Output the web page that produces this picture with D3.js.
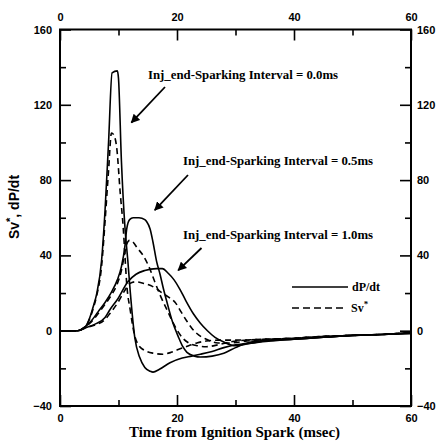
<!DOCTYPE html>
<html>
<head>
<meta charset="utf-8">
<script src="https://cdn.jsdelivr.net/npm/d3@7"></script>
<style>
  html, body { margin: 0; padding: 0; background: #fff; }
  svg { display: block; }
  .tick text { font-family: "Liberation Sans", Arial, sans-serif; font-weight: bold; font-size: 11px; fill: #000; }
  .domain { display: none; }
</style>
</head>
<body>
<svg id="chart" width="440" height="441"></svg>
<script>
// Axis ticks
const xMajorTicks = [0, 20, 40, 60];
const xMinorTicks = [10, 30, 50];
const yMajorTicks = [-40, 0, 40, 80, 120, 160];
const yMinorTicks = [-20, 20, 60, 100, 140];

// dP/dt (solid) and Sv* (dashed), [time in msec, value], one pair of series per interval
const dPdt_00 = [[0,0],[3,0],[4.3,2],[5.1,7],[5.7,13],[6.3,20],[7.1,37],[7.7,64],[8.3,100],[8.9,137],[9.8,138],[10,134],[10.5,90],[11.1,55],[11.6,37],[12,21],[12.8,-4],[13.6,-14],[14.5,-19.5],[15.4,-21.5],[15.9,-22],[17,-20.5],[18.8,-17],[20.9,-14.5],[22.5,-13.5],[24,-12.5],[26,-11],[28,-9],[30,-7.5],[33,-6.5],[36,-5.5],[40,-4.5],[45,-3.5],[50,-2.5],[55,-2],[60,-1.5]];
const sv_00 = [[0,0],[3,0],[4.3,2],[5.1,6.5],[5.8,13],[6.3,19],[7.1,34],[7.7,58],[8.3,85],[8.8,105],[9.2,104],[9.7,97],[10.3,73],[10.8,55],[11.1,40],[11.4,25],[12,11],[12.8,-3],[13.5,-8],[14.2,-10],[14.8,-11],[16,-12],[17.6,-12.5],[19,-11.5],[20.2,-10],[22,-8],[23.4,-6.5],[25,-5.5],[27.4,-5],[30,-5],[35,-4.5],[40,-4],[45,-3],[50,-2.5],[55,-2],[60,-1]];

const dPdt_05 = [[0,0],[3,0],[4.3,2],[5.3,5],[6.5,10],[7.7,15],[8.8,20.5],[9.8,27],[10.5,34],[11.1,45],[11.4,54],[11.9,59],[12.5,60],[13.5,60],[14.5,59],[14.8,58],[15.4,54],[15.9,47],[16.5,37],[17.1,30],[17.7,22],[18.3,15],[19.2,5],[20.2,-3],[21,-8.5],[21.7,-11.5],[23,-13.5],[24,-14],[26,-13.5],[28,-12],[30,-9],[32,-6.5],[36,-5],[40,-4.5],[45,-3.5],[50,-2.5],[55,-2],[60,-1]];
const sv_05 = [[0,0],[3,0],[4.3,2],[5.3,4.5],[6.5,9],[7.7,14],[8.8,19],[9.8,25],[10.5,32],[11,40],[11.4,46],[11.9,48],[12.5,47],[13.2,44],[14.2,40],[15.2,34],[16.2,26],[17.1,19],[18.3,11],[19.7,2],[21,-4],[22,-6.5],[23.5,-8],[25,-8.5],[27,-7.5],[29,-6],[32,-5],[36,-4.5],[40,-4],[45,-3],[50,-2.5],[55,-2],[60,-1]];

const dPdt_10 = [[0,0],[3,0],[4.3,1.5],[6,3.5],[7.7,7],[8.5,11],[9.9,17],[11.6,26],[13,30],[14.5,32],[16.5,33],[17.5,33],[18.5,30.5],[19.5,27],[20.5,22],[21.5,16],[22.8,9],[24,4],[25.2,0],[26.5,-3.5],[28,-6],[30,-8],[32,-7],[35,-5.5],[40,-4.5],[45,-3.5],[50,-2.5],[55,-2],[60,-1.5]];
const sv_10 = [[0,0],[3,0],[4.3,1.5],[6,3],[7.7,6],[8.5,9],[9.9,15],[11,21],[11.9,25],[13,26],[14.5,25],[15.5,24],[16.6,22],[17.5,20],[18.5,18],[19.7,15],[20.7,10],[21.7,5],[22.5,1.5],[23.4,-1.5],[25,-4.5],[27,-6.5],[29,-6.5],[32,-5.5],[36,-4.5],[40,-4],[45,-3],[50,-2.5],[55,-2],[60,-1]];

const intervalLabels = ["Inj_end-Sparking Interval = 0.0ms", "Inj_end-Sparking Interval = 0.5ms", "Inj_end-Sparking Interval = 1.0ms"];

const svg = d3.select("#chart");
const plotLeft = 60, plotRight = 411, plotTop = 29.5, plotBottom = 406;

const x = d3.scaleLinear().domain([0, 60]).range([plotLeft, plotRight]);
const y = d3.scaleLinear().domain([-40, 160]).range([plotBottom, plotTop]);

const serif = "'Liberation Serif', 'Times New Roman', serif";
const sans = "'Liberation Sans', Arial, sans-serif";

// Axes: ticks point into the plot on all four sides
function styleAxis(g) {
  g.selectAll(".tick line").attr("stroke", "#000").attr("stroke-width", 1.6);
}
const majorLen = 11, minorLen = 6;

svg.append("g").attr("transform", `translate(0,${plotBottom})`)
  .call(d3.axisBottom(x).tickValues(xMajorTicks).tickSizeInner(-majorLen).tickSizeOuter(0).tickPadding(8).tickFormat(d3.format("d")))
  .call(styleAxis);
svg.append("g").attr("transform", `translate(0,${plotBottom})`)
  .call(d3.axisBottom(x).tickValues(xMinorTicks).tickSizeInner(-minorLen).tickSizeOuter(0).tickFormat(""))
  .call(styleAxis);
svg.append("g").attr("transform", `translate(0,${plotTop})`)
  .call(d3.axisTop(x).tickValues(xMajorTicks).tickSizeInner(-majorLen).tickSizeOuter(0).tickPadding(9).tickFormat(d3.format("d")))
  .call(styleAxis);
svg.append("g").attr("transform", `translate(0,${plotTop})`)
  .call(d3.axisTop(x).tickValues(xMinorTicks).tickSizeInner(-minorLen).tickSizeOuter(0).tickFormat(""))
  .call(styleAxis);
svg.append("g").attr("transform", `translate(${plotLeft},0)`)
  .call(d3.axisLeft(y).tickValues(yMajorTicks).tickSizeInner(-majorLen).tickSizeOuter(0).tickPadding(8).tickFormat(d3.format("d")))
  .call(styleAxis);
svg.append("g").attr("transform", `translate(${plotLeft},0)`)
  .call(d3.axisLeft(y).tickValues(yMinorTicks).tickSizeInner(-minorLen).tickSizeOuter(0).tickFormat(""))
  .call(styleAxis);
svg.append("g").attr("transform", `translate(${plotRight},0)`)
  .call(d3.axisRight(y).tickValues(yMajorTicks).tickSizeInner(-majorLen).tickSizeOuter(0).tickPadding(6).tickFormat(d3.format("d")))
  .call(styleAxis);
svg.append("g").attr("transform", `translate(${plotRight},0)`)
  .call(d3.axisRight(y).tickValues(yMinorTicks).tickSizeInner(-minorLen).tickSizeOuter(0).tickFormat(""))
  .call(styleAxis);

// Plot frame
svg.append("rect")
  .attr("x", plotLeft).attr("y", plotTop)
  .attr("width", plotRight - plotLeft).attr("height", plotBottom - plotTop)
  .attr("fill", "none").attr("stroke", "#000").attr("stroke-width", 2);

// Curves
const line = d3.line().x(d => x(d[0])).y(d => y(d[1])).curve(d3.curveMonotoneX);
const series = [
  { data: dPdt_00, dash: null }, { data: sv_00, dash: "6,4" },
  { data: dPdt_05, dash: null }, { data: sv_05, dash: "6,4" },
  { data: dPdt_10, dash: null }, { data: sv_10, dash: "6,4" }
];
svg.append("g").selectAll("path").data(series).join("path")
  .attr("d", d => line(d.data))
  .attr("fill", "none")
  .attr("stroke", "#000")
  .attr("stroke-width", 1.6)
  .attr("stroke-dasharray", d => d.dash);

// Annotations with arrows
const defs = svg.append("defs");
defs.append("marker").attr("id", "arrowhead")
  .attr("viewBox", "0 0 10 10").attr("refX", 9).attr("refY", 5)
  .attr("markerWidth", 9).attr("markerHeight", 9)
  .attr("markerUnits", "userSpaceOnUse")
  .attr("orient", "auto")
  .append("path").attr("d", "M0,0 L10,5 L0,10 Z").attr("fill", "#000");

const notes = [
  { text: intervalLabels[0], tx: 148, ty: 79, from: [165, 87], to: [x(12.2), y(110.5)] },
  { text: intervalLabels[1], tx: 183, ty: 165, from: [188, 175], to: [x(16.2), y(64)] },
  { text: intervalLabels[2], tx: 183, ty: 239, from: [201.5, 248], to: [x(20.2), y(32)] }
];
notes.forEach(n => {
  svg.append("text").attr("x", n.tx).attr("y", n.ty)
    .attr("font-family", serif).attr("font-weight", "bold").attr("font-size", 12.8)
    .text(n.text);
  svg.append("line")
    .attr("x1", n.from[0]).attr("y1", n.from[1]).attr("x2", n.to[0]).attr("y2", n.to[1])
    .attr("stroke", "#000").attr("stroke-width", 1.8)
    .attr("marker-end", "url(#arrowhead)");
});

// Legend
const legend = svg.append("g");
legend.append("line").attr("x1", 292).attr("x2", 348).attr("y1", 287).attr("y2", 287)
  .attr("stroke", "#000").attr("stroke-width", 1.6);
legend.append("text").attr("x", 352).attr("y", 291)
  .attr("font-family", serif).attr("font-weight", "bold").attr("font-size", 12)
  .text("dP/dt");
legend.append("line").attr("x1", 292).attr("x2", 344).attr("y1", 308).attr("y2", 308)
  .attr("stroke", "#000").attr("stroke-width", 1.6).attr("stroke-dasharray", "7,4");
const svText = legend.append("text").attr("x", 351).attr("y", 312)
  .attr("font-family", serif).attr("font-weight", "bold").attr("font-size", 12);
svText.append("tspan").text("Sv");
svText.append("tspan").attr("dy", -5).attr("font-size", 9).text("*");

// Axis titles
svg.append("text")
  .attr("x", (plotLeft + plotRight) / 2 - 1).attr("y", 437)
  .attr("text-anchor", "middle")
  .attr("font-family", serif).attr("font-weight", "bold").attr("font-size", 15)
  .text("Time from Ignition Spark (msec)");

const yTitle = svg.append("text")
  .attr("transform", "translate(19,207) rotate(-90)")
  .attr("text-anchor", "middle")
  .attr("font-family", sans).attr("font-weight", "bold").attr("font-size", 14);
yTitle.append("tspan").text("Sv");
yTitle.append("tspan").attr("dy", -5).attr("font-size", 11).text("*");
yTitle.append("tspan").attr("dy", 5).text(", dP/dt");
</script>
</body>
</html>
